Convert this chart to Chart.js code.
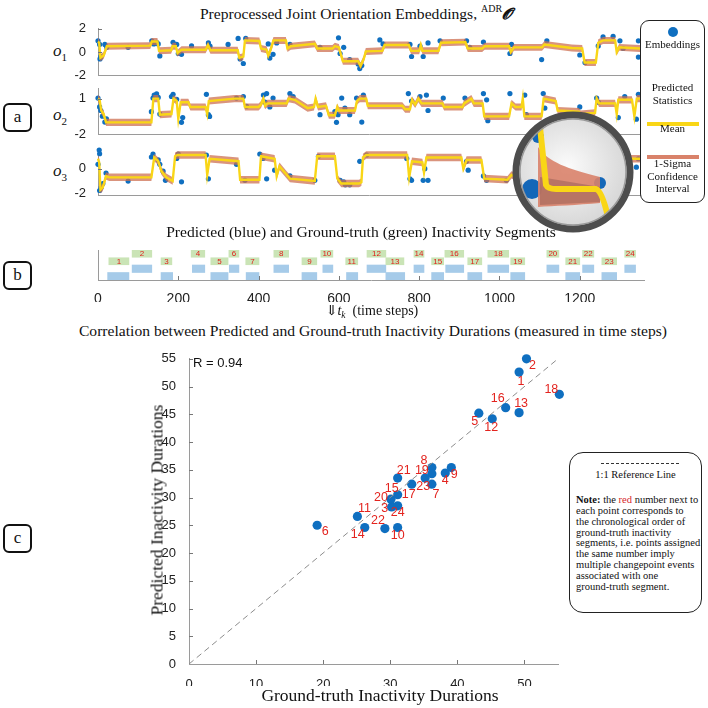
<!DOCTYPE html>
<html>
<head>
<meta charset="utf-8">
<script src="https://cdn.jsdelivr.net/npm/chart.js@4.4.1/dist/chart.umd.min.js"></script>
<style>
  body { margin: 0; width: 708px; height: 708px; background: #fff; position: relative; overflow: hidden;
         font-family: "Liberation Serif", "DejaVu Serif", serif; color: #111; }
  canvas { position: absolute; }
  .ttl { position: absolute; font-size: 15.6px; white-space: nowrap; transform: translate(-50%, -50%); }
  .pbox { position: absolute; width: 25px; height: 25px; border: 2px solid #111; border-radius: 6px;
          font-size: 17px; text-align: center; line-height: 23px; }
  .ylab { position: absolute; font-style: italic; font-size: 17px; transform: translateY(-50%); }
  .ylab sub { font-size: 11px; font-style: normal; }
  .legend { position: absolute; left: 640px; top: 20px; width: 63px; height: 181px; border: 1.5px solid #222;
            border-radius: 9px; font-size: 11px; text-align: center; }
  .legend div { position: absolute; left: 0; width: 100%; }
  .note { position: absolute; left: 569px; top: 452px; width: 131px; height: 159px; border: 1.5px solid #222;
          border-radius: 14px; font-size: 10.5px; }
</style>
</head>
<body>

<div class="ttl" style="left:356px;top:13px">Preprocessed Joint Orientation Embeddings, <sup style="font-size:10px">ADR</sup><b><i>𝓞</i></b></div>
<div class="pbox" style="left:3px;top:103px">a</div>
<div class="ylab" style="left:53px;top:52px">o<sub>1</sub></div>
<div class="ylab" style="left:53px;top:116px">o<sub>2</sub></div>
<div class="ylab" style="left:53px;top:172px">o<sub>3</sub></div>

<canvas id="o1" width="586" height="70" style="left:58px;top:17px"></canvas>
<canvas id="o2" width="586" height="69" style="left:58px;top:77px"></canvas>
<canvas id="o3" width="586" height="70" style="left:58px;top:137px"></canvas>

<div class="legend">
  <div style="top:6px"><span style="display:inline-block;width:10px;height:10px;border-radius:50%;background:#0f6fc0"></span></div>
  <div style="top:17px">Embeddings</div>
  <div style="top:60px;line-height:13px">Predicted<br>Statistics</div>
  <div style="top:95px"><span style="display:inline-block;width:52px;height:4px;background:#f9d616"></span></div>
  <div style="top:101px">Mean</div>
  <div style="top:128px"><span style="display:inline-block;width:52px;height:4px;background:#d9826a"></span></div>
  <div style="top:136px;line-height:12.5px">1-Sigma<br>Confidence<br>Interval</div>
</div>

<svg width="130" height="130" style="position:absolute;left:508px;top:107px">
  <defs>
    <clipPath id="cl"><circle cx="65" cy="65" r="55"/></clipPath>
    <radialGradient id="rg" cx="0.45" cy="0.45" r="0.6">
      <stop offset="0" stop-color="#fbfbfb"/><stop offset="1" stop-color="#d4d4d4"/>
    </radialGradient>
  </defs>
  <circle cx="65" cy="65" r="55" fill="url(#rg)"/>
  <g clip-path="url(#cl)">
    <circle cx="24" cy="82" r="10" fill="#1467b8"/>
    <circle cx="30" cy="30" r="6" fill="#1467b8"/>
    <circle cx="92" cy="76" r="6" fill="#1467b8"/>
    <path d="M30 40 C 40 55, 60 62, 92 70 L 92 96 C 70 98, 45 99, 30 100 Z" fill="#d9826a" opacity="0.9"/>
    <path d="M32 70 L 92 80 L 92 95 L 32 98 Z" fill="#a86a5c" opacity="0.7"/>
    <path d="M32 20 L 38 78 Q 40 82 48 82 L 88 82 Q 94 84 100 110" stroke="#f9d616" stroke-width="6" fill="none"/>
  </g>
  <circle cx="65" cy="65" r="57" fill="none" stroke="#4d4d4d" stroke-width="7"/>
  <circle cx="65" cy="65" r="53" fill="none" stroke="#9a9a9a" stroke-width="1.5"/>
</svg>

<div class="ttl" style="left:361px;top:232px">Predicted (blue) and Ground-truth (green) Inactivity Segments</div>
<div class="pbox" style="left:3px;top:261px">b</div>
<canvas id="seg" width="590" height="54" style="left:58px;top:248px"></canvas>
<div class="ttl" style="left:372px;top:311px;font-size:14px">⇓<i>t<sub style="font-size:9.5px">k</sub></i>&nbsp; (time steps)</div>

<div class="ttl" style="left:373px;top:331px">Correlation between Predicted and Ground-truth Inactivity Durations (measured in time steps)</div>
<div class="pbox" style="left:3px;top:524px">c</div>
<canvas id="corr" width="407" height="341" style="left:159px;top:346px"></canvas>
<div class="ttl" style="left:157px;top:510px;font-size:17.5px;transform:translate(-50%,-50%) rotate(-90deg)">Predicted Inactivity Durations</div>
<div class="ttl" style="left:380px;top:695px;font-size:17.5px">Ground-truth Inactivity Durations</div>
<div style="position:absolute;left:193px;top:355px;font-family:'Liberation Sans',sans-serif;font-size:13px">R = 0.94</div>

<div class="note">
  <div style="position:absolute;left:31px;top:10px;width:78px;border-top:1.5px dashed #333"></div>
  <div style="position:absolute;left:0;top:16px;width:100%;text-align:center">1:1 Reference Line</div>
  <div style="position:absolute;left:6px;top:42px;line-height:10.85px;white-space:nowrap">
    <b>Note:</b> the <span style="color:#d62728">red</span> number next to<br>each point corresponds to<br>the chronological order of<br>ground-truth inactivity<br>segments, i.e. points assigned<br>the same number imply<br>multiple changepoint events<br>associated with one<br>ground-truth segment.
  </div>
</div>

<script>
// ---- panel a: time series (t in time steps, value) ----
const timeMax = 1350;

const o1Mean = [[0,0.9],[3,0.8],[6,-0.5],[14,-0.3],[22,0.5],[130,0.55],[134,0.9],[148,0.9],[152,0.1],[182,0.15],
  [186,0.5],[194,0.5],[198,-0.1],[208,0.2],[268,0.2],[274,0.6],[280,0.15],[348,0.15],[352,-0.5],[362,-0.4],
  [366,1.0],[402,0.95],[406,0.3],[420,0.2],[424,-0.3],[430,0.2],[437,1.0],[468,1.0],[472,0.3],[480,0.5],
  [540,0.7],[546,0.3],[584,0.3],[590,0.5],[600,0.4],[610,-0.8],[648,-0.8],[654,-1.2],[662,-0.6],[667,0.05],
  [708,0.1],[714,0.6],[774,0.6],[780,0.1],[800,0.1],[804,0.6],[808,0.1],[848,0.1],[854,0.8],[915,0.85],
  [921,0.3],[957,0.3],[963,0.5],[1024,0.5],[1028,0.0],[1036,0.4],[1106,0.4],[1112,0.65],[1180,0.35],[1206,0.3],
  [1212,-0.9],[1240,-0.9],[1246,0.8],[1258,1.0],[1288,1.0],[1292,0.0],[1298,0.4],[1350,0.3]];
const o1Dots = [[0,0.96],[4,0.65],[5,-0.6],[7,-0.4],[17,0.65],[22,0.4],[75,0.4],[134,0.96],[139,0.7],[146,0.83],
  [150,0.7],[154,-0.34],[187,0.83],[196,0.65],[200,-0.13],[208,-0.2],[233,0.52],[275,0.78],[279,0.5],[324,0.65],
  [349,1.17],[354,-0.6],[362,-0.99],[368,1.17],[424,0.7],[428,-0.52],[436,-0.2],[445,0.78],[478,0.65],[553,0.4],
  [599,1.22],[603,-0.13],[612,0.4],[627,-0.65],[648,-1.04],[652,-1.43],[657,-1.17],[702,1.04],[710,0.7],[777,0.65],
  [781,-0.39],[802,0.5],[810,-0.39],[822,0.78],[852,0.96],[918,0.96],[926,0.4],[960,0.86],[1026,-0.13],[1030,0.65],
  [1105,-0.65],[1118,0.96],[1200,-0.26],[1213,-0.91],[1246,0.52],[1258,1.3],[1283,1.35],[1300,0.96],[1308,0.3],
  [1346,0.96],[1346,-0.44]];

const o2Mean = [[0,1.0],[4,0.9],[8,0.0],[14,-0.3],[20,-1.0],[133,-1.0],[138,1.0],[150,1.0],[154,-0.35],[183,-0.3],
  [188,1.0],[196,0.8],[200,-0.7],[206,0.7],[225,0.7],[230,0.3],[268,0.3],[272,-0.3],[276,0.8],[340,1.0],
  [362,1.0],[366,0.3],[400,0.3],[406,0.5],[412,1.0],[416,0.4],[422,0.6],[470,0.6],[475,1.0],[490,0.9],
  [522,0.2],[538,0.3],[542,1.0],[548,0.3],[568,0.4],[575,-0.4],[590,-0.4],[596,0.3],[600,0.0],[640,0.0],
  [645,0.8],[652,1.0],[668,1.0],[672,0.4],[758,0.4],[765,0.1],[777,0.1],[782,0.9],[790,0.5],[798,1.0],
  [806,0.6],[858,0.6],[862,0.3],[908,0.3],[912,0.6],[930,1.0],[936,0.6],[958,0.6],[962,-0.5],[1024,-0.5],
  [1030,0.6],[1040,0.3],[1055,0.3],[1058,1.0],[1062,-0.5],[1105,-0.5],[1110,1.0],[1140,0.8],[1145,0.0],[1198,-0.1],
  [1202,-0.3],[1238,-0.2],[1242,1.0],[1248,0.6],[1288,0.6],[1292,-0.3],[1296,0.9],[1330,0.9],[1336,-0.5],[1342,1.0],
  [1350,1.0]];
const o2Dots = [[0,1.05],[4,0.3],[7,0.0],[11,-0.48],[17,-0.98],[21,-0.7],[133,-0.1],[137,1.05],[140,1.3],[146,1.4],
  [150,1.1],[154,-0.3],[183,1.18],[187,1.36],[196,0.95],[208,-1.0],[211,-0.6],[270,1.36],[275,-0.35],[278,-0.5],
  [345,1.05],[362,1.18],[370,0.35],[412,1.3],[416,0.7],[420,1.43],[428,0.3],[436,1.05],[478,1.43],[486,1.18],
  [553,-0.35],[590,-0.1],[594,-1.0],[598,-0.35],[607,1.05],[615,0.2],[627,-0.35],[644,1.05],[657,-0.98],[661,1.3],
  [773,1.43],[781,0.8],[802,1.18],[818,1.3],[822,0.0],[860,1.05],[914,1.05],[960,1.43],[968,0.9],[971,-0.86],
  [1026,1.43],[1063,1.3],[1067,-0.35],[1109,1.43],[1113,0.2],[1200,0.3],[1242,1.05],[1246,0.7],[1296,-0.6],
  [1312,1.18],[1341,-0.73],[1346,1.36]];

const o3Mean = [[0,0.8],[3,0.5],[6,-1.7],[12,-1.5],[20,-0.6],[28,-0.7],[133,-0.7],[140,0.9],[150,0.6],[158,-0.2],
  [170,-0.7],[186,-1.0],[192,1.0],[198,1.1],[268,1.1],[272,-0.5],[278,0.8],[350,0.6],[354,-0.9],[402,-0.9],
  [406,1.0],[440,0.8],[445,-0.6],[452,0.2],[470,-0.5],[478,-0.8],[540,-1.0],[546,1.0],[590,1.0],[596,-0.8],
  [606,-1.2],[650,-1.2],[656,-1.1],[660,0.9],[668,1.1],[770,1.1],[775,-0.7],[782,0.6],[808,0.5],[812,-0.3],
  [818,0.9],[905,0.9],[910,0.0],[918,0.7],[955,0.7],[962,-0.8],[1020,-0.9],[1030,-0.5],[1045,-0.7],[1080,-0.6],
  [1100,0.3],[1180,0.3],[1240,-0.8],[1300,0.8],[1350,0.8]];
const o3Dots = [[0,0.35],[3,1.5],[4,1.2],[4,-1.76],[8,-1.5],[12,-1.2],[20,-0.35],[75,-1.0],[133,0.94],[137,1.18],
  [150,0.7],[154,0.35],[162,-0.2],[168,-0.94],[196,0.82],[200,1.18],[208,-1.06],[270,1.1],[275,-0.82],[345,0.35],
  [366,-0.94],[403,1.18],[411,0.82],[420,-0.82],[440,-0.12],[478,-0.59],[540,-0.94],[549,1.0],[603,-0.94],
  [612,-1.06],[616,-1.3],[627,-1.3],[652,0.59],[669,1.1],[769,0.82],[777,-0.82],[781,-0.94],[810,-0.94],[814,0.0],
  [822,-0.94],[918,0.59],[922,-0.12],[960,-0.59],[968,-0.94],[1017,-0.94],[1341,0.12],[1346,0.8]];

const sigmaO1 = 0.3, sigmaO2 = 0.3, sigmaO3 = 0.3;
const o1Ticks = [-2, 0, 2];
const o2Ticks = [-2, 1];
const o3Ticks = [-2, -1, 0, 1];

// ---- panel b: segments ----
const segIds    = [1,2,3,4,5,6,7,8,9,10,11,12,13,14,15,16,17,18,19,20,21,22,23,24];
const segRow    = ['lo','hi','lo','hi','lo','hi','lo','hi','lo','hi','lo','hi','lo','hi','lo','hi','lo','hi','lo','hi','lo','hi','lo','hi'];
const gtStart   = [27,85,157,232,281,326,368,438,508,555,617,670,717,787,831,864,921,971,1028,1118,1165,1207,1255,1312];
const gtEnd     = [77,134,184,266,324,351,401,475,545,585,647,717,762,812,861,911,956,1023,1063,1148,1200,1235,1292,1339];
const predStart = [24,85,157,235,281,327,369,438,508,560,619,670,717,787,831,866,921,971,1028,1118,1165,1207,1255,1312];
const predEnd   = [77,134,186,266,324,351,401,475,545,585,647,717,764,812,861,911,956,1023,1063,1148,1200,1235,1292,1339];
const segTicks  = [0,200,400,600,800,1000,1200];

// ---- panel c: durations, same order as segIds ----
const gtDur   = [49.2,50.3,30.2,38.2,43.2,19.1,36.2,36.2,39.1,31.1,25.1,45.2,49.2,26.2,31.1,47.2,33.2,55.2,36.2,30.1,31.1,29.2,35.2,31.1];
const predDur = [52.6,55.0,28.3,34.4,45.2,25.0,32.4,35.4,35.4,24.6,26.6,44.2,45.3,24.6,30.5,46.2,32.4,48.6,34.3,29.7,33.5,24.4,33.5,28.5];
const refLine = [0, 55];
const corrXTicks = [0, 10, 20, 30, 40, 50];
const corrYTicks = [0, 5, 10, 15, 20, 25, 30, 35, 40, 45, 50, 55];

// where each red number sits relative to its dot (px)
const labelOffsets = [[2,9],[6,7],[-7,2],[0,7],[-4,8],[8,6],[4,10],[-8,-7],[3,7],[0,8],[7,-8],[-1,9],
  [2,-9],[-7,7],[-6,-6],[-8,-9],[-3,10],[-8,-5],[-10,-3],[-10,-2],[6,-8],[-7,-8],[-2,8],[0,7]];

const axisGray = '#9a9a9a';
const sans = 'Liberation Sans';

// short inward tick marks like the original figure
const innerTicks = {
  id: 'innerTicks',
  afterDraw(chart, args, opts) {
    const ctx = chart.ctx;
    const a = chart.chartArea;
    ctx.save();
    ctx.strokeStyle = '#777';
    ctx.lineWidth = 1;
    ctx.beginPath();
    if (opts.x) {
      chart.scales.x.ticks.forEach(t => {
        const px = Math.round(chart.scales.x.getPixelForValue(t.value)) + 0.5;
        if (px > a.left + 2) { ctx.moveTo(px, a.bottom); ctx.lineTo(px, a.bottom - 4); }
      });
    }
    if (opts.y) {
      chart.scales.y.ticks.forEach(t => {
        const py = Math.round(chart.scales.y.getPixelForValue(t.value)) + 0.5;
        if (py < a.bottom - 2) { ctx.moveTo(a.left, py); ctx.lineTo(a.left + 4, py); }
      });
    }
    ctx.stroke();
    ctx.restore();
  }
};

function seriesChart(id, mean, dots, sigma, yMin, yMax, yTicks) {
  const pts = arr => arr.map(p => ({ x: p[0], y: p[1] }));
  const band = s => mean.map(p => ({ x: p[0], y: p[1] + s }));
  new Chart(document.getElementById(id), {
    type: 'scatter',
    data: {
      datasets: [
        { data: pts(mean), showLine: true, borderColor: '#f9d616', borderWidth: 2.4, pointRadius: 0, tension: 0 },
        { data: band(sigma), showLine: true, borderWidth: 0, pointRadius: 0, borderColor: 'rgba(0,0,0,0)' },
        { data: band(-sigma), showLine: true, borderWidth: 0, pointRadius: 0, borderColor: 'rgba(0,0,0,0)',
          fill: '-1', backgroundColor: 'rgba(205,112,82,0.75)' },
        { data: pts(dots), pointRadius: 2.6, backgroundColor: '#0f6fc0', borderWidth: 0 }
      ]
    },
    options: {
      responsive: false,
      animation: false,
      clip: false,
      layout: { padding: { top: 9, bottom: 9, right: 4, left: 0 } },
      plugins: { legend: { display: false }, tooltip: { enabled: false }, innerTicks: { y: true } },
      scales: {
        x: { type: 'linear', min: 0, max: timeMax, ticks: { display: false }, grid: { display: false },
             border: { color: axisGray }, afterFit: s => { s.height = 0; } },
        y: { min: yMin, max: yMax,
             afterBuildTicks: s => { s.ticks = yTicks.map(v => ({ value: v })); },
             ticks: { font: { family: sans, size: 13 }, color: '#222', padding: 4 },
             grid: { display: false }, border: { color: axisGray },
             afterFit: s => { s.width = 40; } }
      }
    },
    plugins: [innerTicks]
  });
}

seriesChart('o1', o1Mean, o1Dots, sigmaO1, -2, 2, o1Ticks);
seriesChart('o2', o2Mean, o2Dots, sigmaO2, -2, 1.83, o2Ticks);
seriesChart('o3', o3Mean, o3Dots, sigmaO3, -2.14, 1.6, o3Ticks);

// ---- panel b chart ----
const segLabels = {
  id: 'segLabels',
  afterDatasetsDraw(chart) {
    const ctx = chart.ctx;
    const meta = chart.getDatasetMeta(0);
    ctx.save();
    ctx.font = '8px "' + sans + '"';
    ctx.fillStyle = '#e0201b';
    ctx.textAlign = 'center';
    ctx.textBaseline = 'middle';
    meta.data.forEach((bar, i) => ctx.fillText(String(segIds[i]), (bar.x + bar.base) / 2, bar.y + 0.5));
    ctx.restore();
  }
};

new Chart(document.getElementById('seg'), {
  type: 'bar',
  data: {
    datasets: [
      { data: gtStart.map((s, i) => ({ x: [s, gtEnd[i]], y: segRow[i] === 'hi' ? 'gtHi' : 'gtLo' })),
        backgroundColor: '#cae4b6', barThickness: 7, grouped: false },
      { data: predStart.map((s, i) => ({ x: [s, predEnd[i]], y: segRow[i] === 'hi' ? 'predHi' : 'predLo' })),
        backgroundColor: '#a6cbe9', barThickness: 7.5, grouped: false }
    ]
  },
  options: {
    indexAxis: 'y',
    responsive: false,
    animation: false,
    layout: { padding: { top: 2, left: 40, right: 4, bottom: 0 } },
    plugins: { legend: { display: false }, tooltip: { enabled: false }, innerTicks: { x: true } },
    scales: {
      x: { type: 'linear', min: 0, max: 1360,
           afterBuildTicks: s => { s.ticks = segTicks.map(v => ({ value: v })); },
           ticks: { font: { family: sans, size: 14 }, color: '#222', padding: 3, callback: v => String(v) },
           grid: { display: false }, border: { color: axisGray },
           afterFit: s => { s.height = 22; } },
      y: { type: 'category', labels: ['gtHi', 'gtLo', 'predHi', 'predLo'],
           ticks: { display: false }, grid: { display: false }, border: { color: axisGray },
           afterFit: s => { s.width = 0; } }
    }
  },
  plugins: [segLabels, innerTicks]
});

// ---- panel c chart ----
const pointLabels = {
  id: 'pointLabels',
  afterDatasetsDraw(chart) {
    const ctx = chart.ctx;
    const meta = chart.getDatasetMeta(1);
    ctx.save();
    ctx.font = '12.5px "' + sans + '"';
    ctx.fillStyle = '#e3241f';
    ctx.textAlign = 'center';
    ctx.textBaseline = 'middle';
    meta.data.forEach((pt, i) => {
      const off = labelOffsets[i];
      ctx.fillText(String(segIds[i]), pt.x + off[0], pt.y + off[1]);
    });
    ctx.restore();
  }
};

new Chart(document.getElementById('corr'), {
  type: 'scatter',
  data: {
    datasets: [
      { data: refLine.map(v => ({ x: v, y: v })), showLine: true, borderColor: '#8c8c8c', borderWidth: 1,
        borderDash: [6, 4], pointRadius: 0 },
      { data: gtDur.map((g, i) => ({ x: g, y: predDur[i] })), pointRadius: 4.6, backgroundColor: '#0f6fc0',
        borderWidth: 0, clip: false }
    ]
  },
  options: {
    responsive: false,
    animation: false,
    layout: { padding: { top: 9, right: 8, bottom: 1, left: 0 } },
    plugins: { legend: { display: false }, tooltip: { enabled: false }, innerTicks: { x: true, y: true } },
    scales: {
      x: { type: 'linear', min: 0, max: 55,
           afterBuildTicks: s => { s.ticks = corrXTicks.map(v => ({ value: v })); },
           ticks: { font: { family: sans, size: 13 }, color: '#222', padding: 5 },
           grid: { display: false }, border: { color: axisGray },
           afterFit: s => { s.height = 22; } },
      y: { type: 'linear', min: 0, max: 55,
           afterBuildTicks: s => { s.ticks = corrYTicks.map(v => ({ value: v })); },
           ticks: { font: { family: sans, size: 13 }, color: '#222', padding: 5 },
           grid: { display: false }, border: { color: axisGray },
           afterFit: s => { s.width = 30; } }
    }
  },
  plugins: [pointLabels, innerTicks]
});
</script>
</body>
</html>
